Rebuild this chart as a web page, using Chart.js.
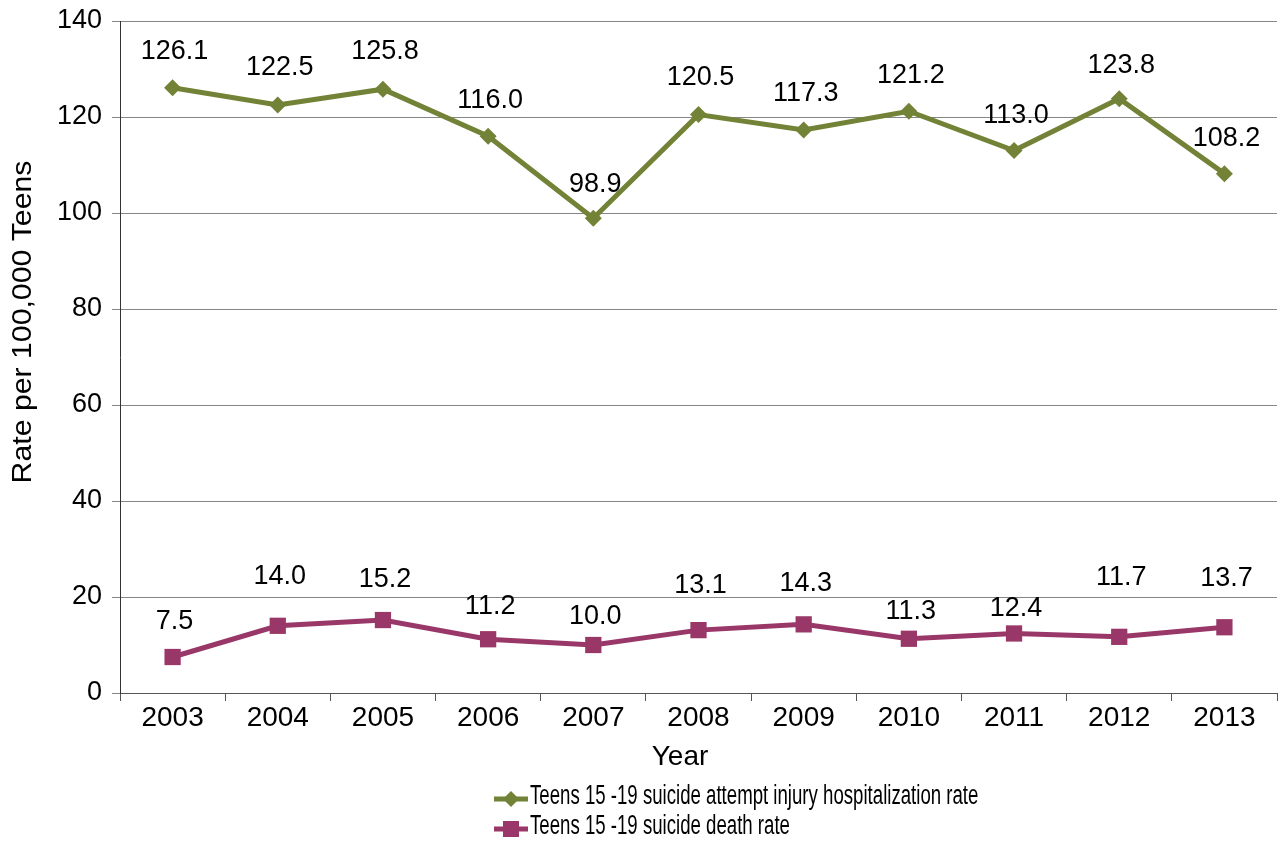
<!DOCTYPE html>
<html>
<head>
<meta charset="utf-8">
<script src="https://cdn.jsdelivr.net/npm/chart.js@4.4.1/dist/chart.umd.min.js"></script>
<style>
html,body{margin:0;padding:0;background:#fff;}
#wrap{width:1278px;height:841px;position:relative;}
</style>
</head>
<body>
<div id="wrap"><canvas id="c" width="1278" height="841"></canvas></div>
<script>
const years = ['2003','2004','2005','2006','2007','2008','2009','2010','2011','2012','2013'];
const hospRate = [126.1,122.5,125.8,116.0,98.9,120.5,117.3,121.2,113.0,123.8,108.2];
const deathRate = [7.5,14.0,15.2,11.2,10.0,13.1,14.3,11.3,12.4,11.7,13.7];
const yTicks = [0,20,40,60,80,100,120,140];
const seriesNames = ['Teens 15 -19 suicide attempt injury hospitalization rate','Teens 15 -19 suicide death rate'];

// label vertical offsets above points (style only)
const hospLabelOffset = [36,37,38,36,34,37,36,36,35,33,35];
const deathLabelOffset = [35,49,40,33,28,45,41,27,25,59,49];

const GREEN = '#728236';
const PURPLE = '#993868';
const FONT = 'Liberation Sans, Arial, sans-serif';

const labelPlugin = {
  id: 'valueLabels',
  afterDatasetsDraw(chart) {
    const ctx = chart.ctx;
    ctx.save();
    ctx.font = '27px ' + FONT;
    ctx.fillStyle = '#000';
    ctx.textAlign = 'center';
    ctx.textBaseline = 'middle';
    const offs = [hospLabelOffset, deathLabelOffset];
    chart.data.datasets.forEach((ds, di) => {
      const meta = chart.getDatasetMeta(di);
      meta.data.forEach((pt, i) => {
        ctx.fillText(ds.data[i].toFixed(1), pt.x + 2, pt.y - offs[di][i]);
      });
    });
    ctx.restore();
  }
};

const extrasPlugin = {
  id: 'extras',
  afterDraw(chart) {
    const ctx = chart.ctx;
    // Y axis title
    ctx.save();
    ctx.translate(24, 322);
    ctx.rotate(-Math.PI / 2);
    ctx.scale(1.12, 1);
    ctx.font = '27px ' + FONT;
    ctx.fillStyle = '#000';
    ctx.textAlign = 'center';
    ctx.textBaseline = 'middle';
    ctx.fillText('Rate per 100,000 Teens', 0, 0);
    ctx.restore();

    // X axis title
    ctx.save();
    ctx.font = '28px ' + FONT;
    ctx.fillStyle = '#000';
    ctx.textAlign = 'center';
    ctx.textBaseline = 'middle';
    ctx.fillText('Year', 680, 757);
    ctx.restore();

    // Legend
    const rows = [
      {y: 799, color: GREEN, style: 'diamond', text: seriesNames[0]},
      {y: 829, color: PURPLE, style: 'square', text: seriesNames[1]}
    ];
    rows.forEach(r => {
      ctx.save();
      ctx.strokeStyle = r.color;
      ctx.fillStyle = r.color;
      ctx.lineWidth = 5;
      ctx.beginPath();
      ctx.moveTo(494, r.y);
      ctx.lineTo(528, r.y);
      ctx.stroke();
      ctx.beginPath();
      if (r.style === 'diamond') {
        const s = 8;
        ctx.moveTo(511 - s, r.y); ctx.lineTo(511, r.y - s);
        ctx.lineTo(511 + s, r.y); ctx.lineTo(511, r.y + s);
        ctx.closePath();
      } else {
        ctx.rect(511 - 8, r.y - 8, 16, 16);
      }
      ctx.fill();
      ctx.restore();

      ctx.save();
      ctx.translate(530, r.y - 2);
      ctx.scale(0.69, 1);
      ctx.font = '27px ' + FONT;
      ctx.fillStyle = '#000';
      ctx.textAlign = 'left';
      ctx.textBaseline = 'middle';
      ctx.fillText(r.text, 0, 0);
      ctx.restore();
    });
  }
};

new Chart(document.getElementById('c'), {
  type: 'line',
  data: {
    labels: years,
    datasets: [
      {
        label: seriesNames[0],
        data: hospRate,
        borderColor: GREEN,
        backgroundColor: GREEN,
        borderWidth: 5,
        pointStyle: 'rectRot',
        pointRadius: 8.5,
        pointHoverRadius: 8.5,
        pointBackgroundColor: GREEN,
        pointBorderColor: GREEN,
        pointBorderWidth: 0,
        tension: 0,
        clip: false
      },
      {
        label: seriesNames[1],
        data: deathRate,
        borderColor: PURPLE,
        backgroundColor: PURPLE,
        borderWidth: 5,
        pointStyle: 'rect',
        pointRadius: 11.5,
        pointHoverRadius: 11.5,
        pointBackgroundColor: PURPLE,
        pointBorderColor: PURPLE,
        pointBorderWidth: 0,
        tension: 0,
        clip: false
      }
    ]
  },
  options: {
    responsive: false,
    animation: false,
    events: [],
    layout: {autoPadding: false, padding: {top: 21, right: 1, left: 0, bottom: 0}},
    plugins: {
      legend: {display: false},
      tooltip: {enabled: false},
      title: {display: false}
    },
    scales: {
      x: {
        type: 'category',
        offset: true,
        afterFit(s) { s.height = 148; s.paddingLeft = 0; s.paddingRight = 0; },
        grid: {
          offset: true,
          drawOnChartArea: false,
          drawTicks: true,
          tickLength: 8,
          color: '#555',
          lineWidth: 1
        },
        border: {display: true, color: '#555', width: 1},
        ticks: {
          color: '#000',
          font: {family: FONT, size: 28},
          padding: 0,
          maxRotation: 0,
          autoSkip: false
        },
        title: {display: false}
      },
      y: {
        min: 0,
        max: 140,
        afterFit(s) { s.width = 120; s.paddingTop = 0; s.paddingBottom = 0; },
        afterBuildTicks(s) { s.ticks = yTicks.map(v => ({value: v})); },
        grid: {
          color: '#868686',
          lineWidth: 1,
          drawTicks: true,
          tickLength: 8
        },
        border: {display: true, color: '#333', width: 1},
        ticks: {
          color: '#000',
          font: {family: FONT, size: 27},
          padding: 10
        }
      }
    }
  },
  plugins: [labelPlugin, extrasPlugin]
});
</script>
</body>
</html>
